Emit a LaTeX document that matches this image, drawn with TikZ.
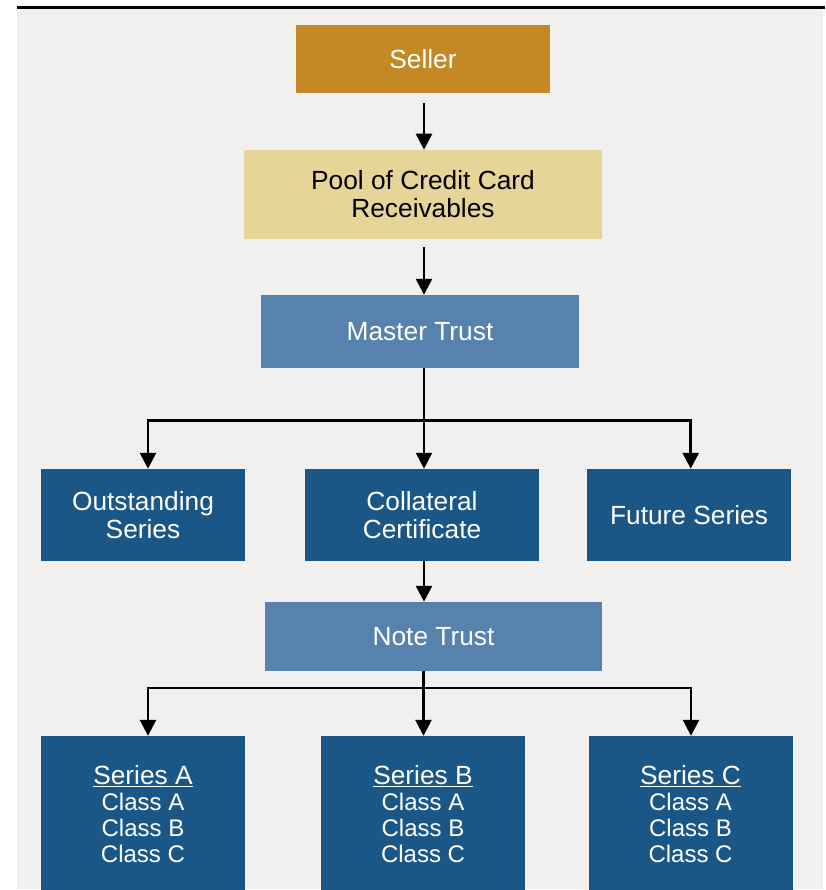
\documentclass[tikz,border=0pt]{standalone}
\usepackage{fontspec}
\setmainfont{Liberation Sans}
\usetikzlibrary{arrows.meta}
\definecolor{sellerc}{RGB}{196,137,37}
\definecolor{poolc}{RGB}{230,212,152}
\definecolor{trustc}{RGB}{87,130,173}
\definecolor{darkc}{RGB}{26,87,135}
\definecolor{bgc}{RGB}{241,240,238}
\tikzset{
  boxbase/.style={rectangle, draw=none, inner sep=0pt, align=center,
    font=\fontsize{26.3}{28.3}\selectfont},
  sellerbox/.style={boxbase, fill=sellerc, text=white},
  poolbox/.style={boxbase, fill=poolc, text=black},
  trustbox/.style={boxbase, fill=trustc, text=white},
  darkbox/.style={boxbase, fill=darkc, text=white},
  arr/.style={line width=2.7pt, -{Triangle[length=16pt,width=16pt]}},
  conn/.style={line width=2.7pt}
}
\newcommand{\serieshead}[1]{{\fontsize{26.3}{26.7}\selectfont\underline{#1}}}
\begin{document}
\begin{tikzpicture}[x=1pt,y=-1pt]
\useasboundingbox (0,0) rectangle (825,890);
% background
\fill[bgc] (17,9.5) rectangle (823,889);
\fill[black] (17,6) rectangle (825,9);
% nodes
\node[sellerbox, minimum width=254pt, minimum height=68pt] (seller) at (423,59) {Seller};
\node[poolbox, minimum width=358pt, minimum height=88.7pt] (pool) at (423,194.3) {Pool of Credit Card\\Receivables};
\node[trustbox, minimum width=318pt, minimum height=72.7pt] (master) at (420,331.3) {Master Trust};
\node[darkbox, minimum width=204pt, minimum height=91.7pt] (outst) at (143,514.8) {Outstanding\\Series};
\node[darkbox, minimum width=234pt, minimum height=91.7pt] (coll) at (422,514.8) {Collateral\\Certificate};
\node[darkbox, minimum width=204pt, minimum height=91.7pt] (future) at (689,514.8) {Future Series};
\node[trustbox, minimum width=337pt, minimum height=68.7pt] (note) at (433.5,636.3) {Note Trust};
\tikzset{seriesbox/.style={darkbox, minimum width=204pt, minimum height=156pt,
  font=\fontsize{24}{25.8}\selectfont}}
\node[seriesbox] (serA) at (143,814) {\serieshead{Series A}\\Class A\\Class B\\Class C};
\node[seriesbox] (serB) at (423,814) {\serieshead{Series B}\\Class A\\Class B\\Class C};
\node[seriesbox] (serC) at (690.5,814) {\serieshead{Series C}\\Class A\\Class B\\Class C};
% spine coordinates
\coordinate (sp) at (424,0);
\coordinate (j1) at (424,420.7);
\coordinate (j2) at (423.5,688);
% connectors
\draw[arr] ([yshift=-10pt]seller.south -| sp) -- (pool.north -| sp);
\draw[arr] ([yshift=-8.3pt]pool.south -| sp) -- (master.north -| sp);
\draw[conn] (master.south -| sp) -- (j1);
\draw[arr] (j1) -- (coll.north -| sp);
\draw[arr] (j1) -| ([xshift=5pt]outst.north);
\draw[arr] (j1) -| ([xshift=1.7pt]future.north);
\draw[arr] (coll.south -| sp) -- (note.north -| sp);
\draw[conn] (note.south -| j2) -- (j2);
\draw[arr] (j2) -| ([xshift=5pt]serA.north);
\draw[arr] (j2) -- (serB.north -| j2);
\draw[arr] (j2) -| ([xshift=0.5pt]serC.north);
\end{tikzpicture}
\end{document}
